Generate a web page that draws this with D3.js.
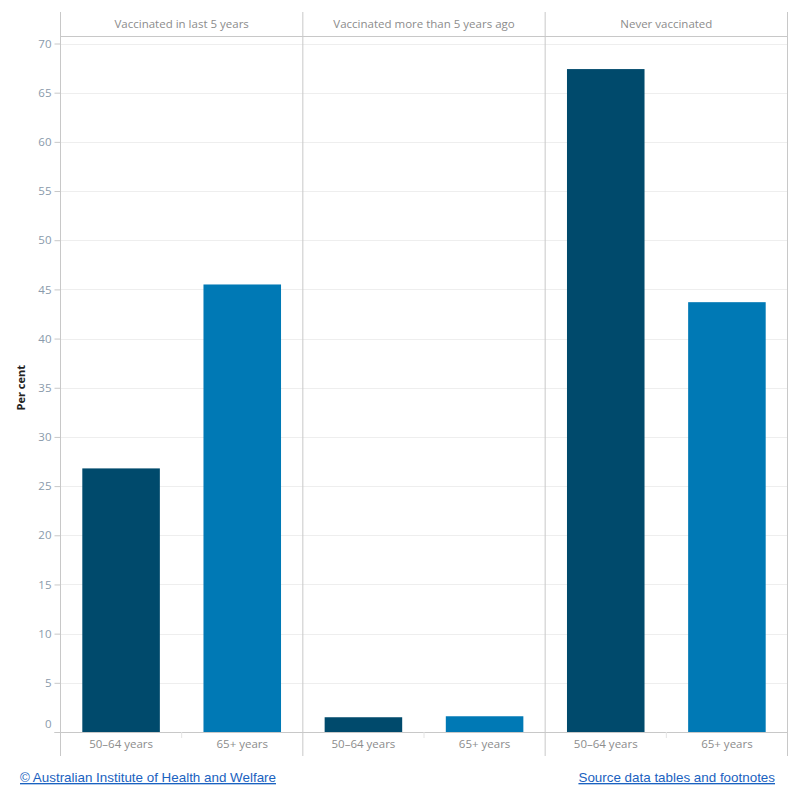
<!DOCTYPE html>
<html>
<head>
<meta charset="utf-8">
<script src="https://cdn.jsdelivr.net/npm/d3@7"></script>
<style>
  body { margin: 0; background: #fff; }
  svg text { font-family: "Open Sans", "Noto Sans", sans-serif; }
</style>
</head>
<body>
<svg id="chart" width="800" height="800"></svg>
<script>
// Data
const panels = ["Vaccinated in last 5 years", "Vaccinated more than 5 years ago", "Never vaccinated"];
const ageGroups = ["50–64 years", "65+ years"];
const age5064 = [26.8, 1.5, 67.4];
const age65plus = [45.5, 1.6, 43.7];
const yTicks = [0, 5, 10, 15, 20, 25, 30, 35, 40, 45, 50, 55, 60, 65, 70];

const colours = { "50–64 years": "#004a6c", "65+ years": "#0079b5" };

// Dimensions
const plotLeft = 60.5, plotRight = 787.5, frameTop = 12, headerBottom = 36.5,
    plotTop = 43.5, baseline = 732, frameBottom = 756;

const svg = d3.select("#chart");

const x = d3.scaleBand().domain(panels).range([plotLeft, plotRight]);
const xInner = d3.scaleBand().domain(ageGroups).range([0, x.bandwidth()]).paddingInner(0.36).paddingOuter(0.18);
const y = d3.scaleLinear().domain([0, 70]).range([baseline, plotTop]);

// Gridlines
svg.append("g")
    .selectAll("line")
    .data(yTicks.filter(d => d > 0))
    .join("line")
    .attr("x1", plotLeft).attr("x2", plotRight)
    .attr("y1", d => Math.round(y(d)) + 0.5).attr("y2", d => Math.round(y(d)) + 0.5)
    .attr("stroke", "#eeeeee");

// Bars
panels.forEach((p, i) => {
    const vals = [age5064[i], age65plus[i]];
    svg.append("g")
        .attr("transform", `translate(${x(p)},0)`)
        .selectAll("rect")
        .data(ageGroups.map((g, j) => ({ g, v: vals[j] })))
        .join("rect")
        .attr("x", d => xInner(d.g))
        .attr("width", xInner.bandwidth())
        .attr("y", d => y(d.v))
        .attr("height", d => baseline - y(d.v))
        .attr("fill", d => colours[d.g]);
});

// Panel frames
const frame = svg.append("g").attr("stroke", "#c8c8c8").attr("fill", "none");
panels.map(p => x(p)).concat([plotRight]).forEach(xx => {
    frame.append("line").attr("x1", xx).attr("x2", xx).attr("y1", frameTop).attr("y2", frameBottom);
});
frame.append("line").attr("x1", plotLeft).attr("x2", plotRight).attr("y1", headerBottom).attr("y2", headerBottom);
frame.append("line").attr("x1", plotLeft - 6).attr("x2", plotRight).attr("y1", baseline + 0.5).attr("y2", baseline + 0.5);

// Small separators between age groups
svg.append("g")
    .selectAll("line")
    .data(panels)
    .join("line")
    .attr("x1", d => x(d) + x.bandwidth() / 2).attr("x2", d => x(d) + x.bandwidth() / 2)
    .attr("y1", baseline).attr("y2", baseline + 6)
    .attr("stroke", "#e4e4e4");

// Panel headers
svg.append("g")
    .selectAll("text")
    .data(panels)
    .join("text")
    .attr("x", d => x(d) + x.bandwidth() / 2)
    .attr("y", 28)
    .attr("text-anchor", "middle")
    .attr("font-size", 11.5)
    .attr("fill", "#8c8c8c")
    .text(d => d);

// Category labels
panels.forEach(p => {
    svg.append("g")
        .selectAll("text")
        .data(ageGroups)
        .join("text")
        .attr("x", d => x(p) + xInner(d) + xInner.bandwidth() / 2)
        .attr("y", 748)
        .attr("text-anchor", "middle")
        .attr("font-size", 11.5)
        .attr("fill", "#8c8c8c")
        .text(d => d);
});

// Y axis
const yAxis = svg.append("g")
    .attr("transform", `translate(${plotLeft},0)`)
    .call(d3.axisLeft(y).tickValues(yTicks).tickSize(6).tickPadding(3));
yAxis.select(".domain").remove();
yAxis.selectAll(".tick line").attr("stroke", "#c8c8c8");
yAxis.selectAll(".tick text")
    .attr("fill", "#8a9aab")
    .attr("font-size", 11.5)
    .attr("dy", d => d === 0 ? "-0.35em" : "0.32em");

svg.append("text")
    .attr("transform", `translate(25,${(plotTop + baseline) / 2}) rotate(-90)`)
    .attr("text-anchor", "middle")
    .attr("font-size", 11)
    .attr("font-weight", "bold")
    .attr("fill", "#222")
    .text("Per cent");

// Footer links
svg.append("text")
    .attr("x", 20).attr("y", 782)
    .style("font-family", "Arial, 'Liberation Sans', sans-serif")
    .attr("font-size", 13.4)
    .attr("fill", "#1a62c0")
    .attr("text-decoration", "underline")
    .text("© Australian Institute of Health and Welfare");

svg.append("text")
    .attr("x", 775).attr("y", 782)
    .attr("text-anchor", "end")
    .style("font-family", "Arial, 'Liberation Sans', sans-serif")
    .attr("font-size", 13.4)
    .attr("fill", "#1a62c0")
    .attr("text-decoration", "underline")
    .text("Source data tables and footnotes");
</script>
</body>
</html>
